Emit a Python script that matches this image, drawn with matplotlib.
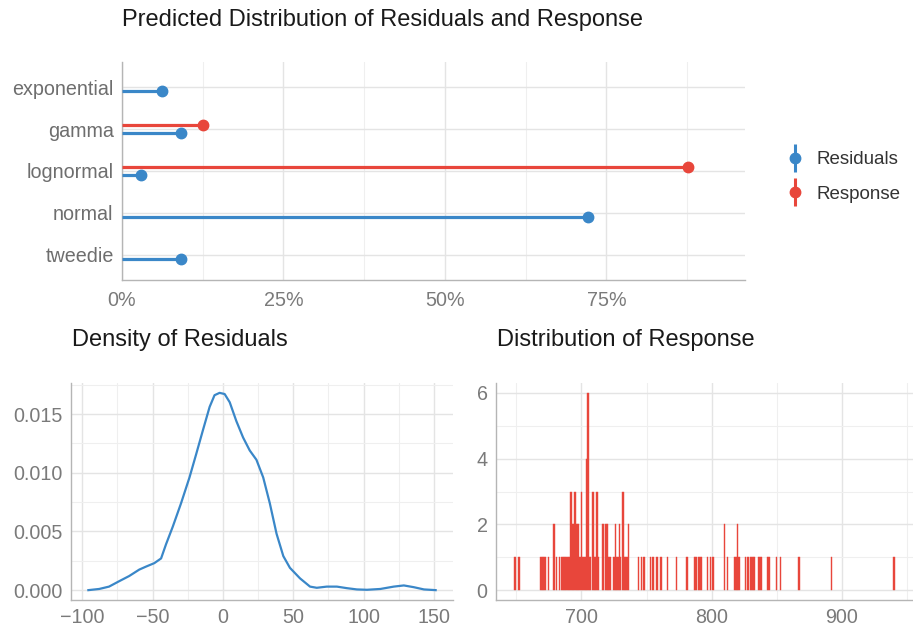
import matplotlib
matplotlib.use("Agg")
import matplotlib.pyplot as plt
from matplotlib.lines import Line2D
from matplotlib.legend_handler import HandlerTuple
from matplotlib.ticker import FuncFormatter, MultipleLocator

plt.rcParams['font.family'] = ['Liberation Sans', 'DejaVu Sans']

# ---------------- data ----------------
categories = ["exponential", "gamma", "lognormal", "normal", "tweedie"]
residuals_pct = [6.2, 9.2, 3.0, 72.1, 9.2]
response_pct = [None, 12.5, 87.7, None, None]

density_x = [-95.7, -88, -81, -73.8, -66.7, -59.5, -54.8, -48.8, -44, -40.5, -35.7,
             -29.8, -23.8, -19, -14.3, -9.5, -6, -2.4, 1.2, 4.8, 9.5, 14.3, 19,
             23.8, 28.6, 33.3, 38.1, 42.9, 47.6, 54.8, 61.9, 66.7, 73.8, 81, 88,
             95.2, 102.4, 111.9, 121.4, 128.6, 135.7, 142.9, 151.2]
density_y = [0.0, 0.0001, 0.0003, 0.00076, 0.0012, 0.00175, 0.002, 0.0023, 0.0027,
             0.0039, 0.0054, 0.0074, 0.0096, 0.0116, 0.0136, 0.0156, 0.0166, 0.0168,
             0.0167, 0.016, 0.0144, 0.013, 0.0119, 0.0111, 0.0096, 0.0074, 0.0048,
             0.0029, 0.0019, 0.001, 0.0003, 0.0002, 0.0003, 0.0003, 0.00017, 0.00006,
             0.00003, 0.0001, 0.0003, 0.0004, 0.00025, 0.00006, 0.0]

response_values = [649, 652, 669, 670, 671, 672, 675, 679, 681, 683, 685,
                   686, 687, 688, 689, 690, 691, 692, 693, 694, 695, 696, 697, 698, 699,
                   700, 701, 702, 703, 704, 705, 706, 707, 709, 710, 711, 712, 713,
                   716, 717, 719, 720, 721, 722, 725, 726, 727, 728, 729, 730,
                   732, 733, 734, 735, 736, 744, 746, 748, 753, 755, 758, 761, 766,
                   773, 781, 787, 788, 790, 791, 792, 797, 799, 801, 810, 812,
                   818, 819, 820, 821, 826, 828, 830, 831, 832, 833, 836, 837, 838,
                   843, 844, 850, 853, 867, 892, 940]
response_counts = [1, 1, 1, 1, 1, 1, 1, 2, 1, 1, 1,
                   1, 1, 1, 1, 1, 1, 3, 2, 2, 3, 2, 2, 2, 1,
                   3, 1, 1, 1, 4, 6, 1, 1, 3, 1, 1, 3, 1,
                   2, 2, 2, 2, 1, 1, 1, 2, 1, 1, 2, 1,
                   3, 1, 1, 1, 2, 1, 1, 1, 1, 1, 1, 1, 1,
                   1, 1, 1, 1, 1, 1, 1, 1, 1, 1, 2, 1,
                   1, 1, 2, 1, 1, 1, 1, 1, 1, 1, 1, 1, 1,
                   1, 1, 1, 1, 1, 1, 1]

# ---------------- style ----------------
BLUE = "#3a87c8"
RED = "#e8463b"
GRID = "#e4e4e4"
GRID_MINOR = "#efefef"
AXIS = "#b5b5b5"
TICK = "#7a7a7a"
TITLE = "#1a1a1a"
TICKSIZE = 14.2
TITLESIZE = 17

W, H = 913, 634
fig = plt.figure(figsize=(W / 100, H / 100), dpi=100)


def px_axes(x0, y0, x1, y1):
    return fig.add_axes([x0 / W, 1 - y1 / H, (x1 - x0) / W, (y1 - y0) / H])


def style(ax):
    for s in ["top", "right"]:
        ax.spines[s].set_visible(False)
    for s in ["left", "bottom"]:
        ax.spines[s].set_color(AXIS)
        ax.spines[s].set_linewidth(1.0)
    ax.tick_params(which="both", length=0, colors=TICK, labelsize=TICKSIZE, pad=6)
    ax.grid(True, which="major", color=GRID, linewidth=1.0)
    ax.grid(True, which="minor", color=GRID_MINOR, linewidth=0.8)
    ax.set_axisbelow(True)


# ---------------- top: lollipop ----------------
ax1 = px_axes(122, 62, 745, 280)
style(ax1)
ypos = list(range(len(categories)))
off = 0.1
for i, v in enumerate(residuals_pct):
    if v is not None:
        ax1.plot([0, v], [i + off, i + off], color=BLUE, lw=2.3, solid_capstyle="butt", zorder=3)
        ax1.plot([v], [i + off], "o", color=BLUE, ms=7.5, zorder=4)
for i, v in enumerate(response_pct):
    if v is not None:
        ax1.plot([0, v], [i - off, i - off], color=RED, lw=2.3, solid_capstyle="butt", zorder=3)
        ax1.plot([v], [i - off], "o", color=RED, ms=7.5, zorder=4)
xmax = max([v for v in residuals_pct + response_pct if v is not None]) * 1.1
ax1.set_xlim(0, xmax)
ax1.set_ylim(len(categories) - 0.4, -0.6)
ax1.set_yticks(ypos)
ax1.set_yticklabels(categories)
ax1.xaxis.set_major_locator(MultipleLocator(25))
ax1.xaxis.set_minor_locator(MultipleLocator(12.5))
ax1.xaxis.set_major_formatter(FuncFormatter(lambda v, p: f"{v:.0f}%"))
ax1.tick_params(axis="y", colors="#6e6e6e")
ax1.tick_params(axis="x", pad=8)
ax1.grid(False, which="minor", axis="y")
fig.text(122 / W, 1 - 20 / H, "Predicted Distribution of Residuals and Response",
         fontsize=TITLESIZE, color=TITLE, ha="left", va="center")

h_res = (Line2D([], [], color=BLUE, marker="|", ms=20, mew=2.2, ls="None"),
         Line2D([], [], color=BLUE, marker="o", ms=7.5, ls="None"))
h_rsp = (Line2D([], [], color=RED, marker="|", ms=20, mew=2.2, ls="None"),
         Line2D([], [], color=RED, marker="o", ms=7.5, ls="None"))
leg = fig.legend([h_res, h_rsp], ["Residuals", "Response"],
                 handler_map={tuple: HandlerTuple(ndivide=1)},
                 loc="center left", bbox_to_anchor=(786 / W, 1 - 177 / H),
                 borderaxespad=0, borderpad=0,
                 frameon=False, fontsize=13.5, handlelength=1.0, handletextpad=0.6,
                 labelspacing=0.95)
for t in leg.get_texts():
    t.set_color("#333333")

# ---------------- bottom-left: density ----------------
ax2 = px_axes(71, 383, 453, 600)
style(ax2)
ax2.plot(density_x, density_y, color=BLUE, lw=1.6, zorder=3)
xr = max(density_x) - min(density_x)
ax2.set_xlim(min(density_x) - 0.05 * xr, max(density_x) + 0.05 * xr)
ymx = max(density_y)
ax2.set_ylim(-0.05 * ymx, ymx * 1.05)
ax2.xaxis.set_major_locator(MultipleLocator(50))
ax2.xaxis.set_minor_locator(MultipleLocator(25))
ax2.yaxis.set_major_locator(MultipleLocator(0.005))
ax2.yaxis.set_minor_locator(MultipleLocator(0.0025))
ax2.xaxis.set_major_formatter(FuncFormatter(lambda v, p: f"{v:.0f}".replace("-", "\u2212")))
ax2.yaxis.set_major_formatter(FuncFormatter(lambda v, p: f"{v:.3f}"))
fig.text(72 / W, 1 - 340 / H, "Density of Residuals", fontsize=TITLESIZE, color=TITLE,
         ha="left", va="center")

# ---------------- bottom-right: histogram ----------------
ax3 = px_axes(496, 383, 913, 600)
style(ax3)
ax3.bar(response_values, response_counts, width=1.0, color=RED, edgecolor=RED,
        linewidth=0.3, zorder=3)
xr3 = max(response_values) - min(response_values)
ax3.set_xlim(min(response_values) - 0.05 * xr3, max(response_values) + 0.05 * xr3)
ax3.set_ylim(-0.3, 6.3)
ax3.xaxis.set_major_locator(MultipleLocator(100))
ax3.xaxis.set_minor_locator(MultipleLocator(50))
ax3.yaxis.set_major_locator(MultipleLocator(2))
ax3.yaxis.set_minor_locator(MultipleLocator(1))
fig.text(497 / W, 1 - 340 / H, "Distribution of Response", fontsize=TITLESIZE, color=TITLE,
         ha="left", va="center")

fig.savefig("out.png", dpi=100, facecolor="white")
